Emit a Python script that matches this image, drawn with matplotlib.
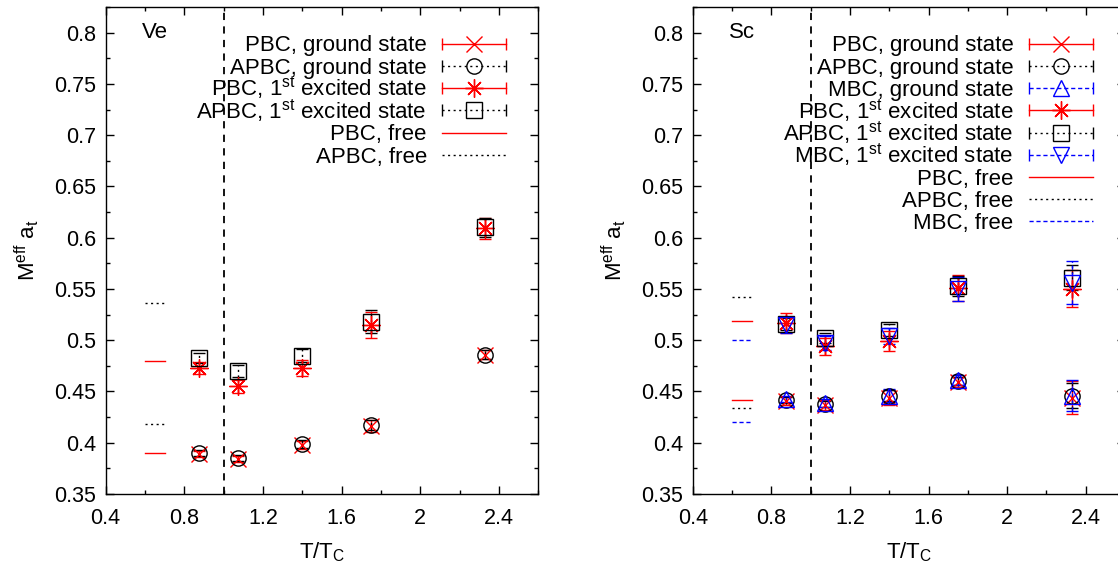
import numpy as np
import matplotlib
matplotlib.use("Agg")
import matplotlib.pyplot as plt
from matplotlib.lines import Line2D
from matplotlib.legend_handler import HandlerBase
from matplotlib.offsetbox import TextArea
from matplotlib.transforms import Bbox
from matplotlib.ticker import MultipleLocator, FuncFormatter

plt.rcParams['font.family'] = ['Liberation Sans', 'DejaVu Sans']
plt.rcParams['mathtext.fontset'] = 'custom'
plt.rcParams['mathtext.rm'] = 'Liberation Sans'
plt.rcParams['mathtext.it'] = 'Liberation Sans'
plt.rcParams['font.size'] = 15.5

# temperatures T/Tc
T = [0.875, 1.075, 1.4, 1.75, 2.33]
Tc_line = 1.0
free_x = [0.6, 0.7]

# Ve channel
ve_pbc_g = [0.389, 0.384, 0.398, 0.416, 0.486]
ve_pbc_g_err = [0.003, 0.003, 0.004, 0.006, 0.004]
ve_apbc_g = [0.390, 0.385, 0.399, 0.417, 0.486]
ve_apbc_g_err = [0.003, 0.003, 0.004, 0.005, 0.004]
ve_pbc_e = [0.473, 0.455, 0.473, 0.515, 0.609]
ve_pbc_e_err = [0.006, 0.006, 0.008, 0.013, 0.010]
ve_apbc_e = [0.483, 0.470, 0.485, 0.518, 0.610]
ve_apbc_e_err = [0.005, 0.006, 0.006, 0.011, 0.009]
ve_free_pbc = [0.39, 0.48]
ve_free_apbc = [0.418, 0.536]

# Sc channel
sc_pbc_g = [0.441, 0.437, 0.444, 0.459, 0.444]
sc_pbc_g_err = [0.004, 0.005, 0.007, 0.005, 0.016]
sc_apbc_g = [0.442, 0.438, 0.446, 0.460, 0.446]
sc_apbc_g_err = [0.003, 0.003, 0.005, 0.004, 0.012]
sc_mbc_g = [0.443, 0.439, 0.446, 0.461, 0.446]
sc_mbc_g_err = [0.003, 0.004, 0.006, 0.005, 0.015]
sc_pbc_e = [0.517, 0.494, 0.499, 0.551, 0.550]
sc_pbc_e_err = [0.010, 0.008, 0.010, 0.013, 0.018]
sc_apbc_e = [0.516, 0.502, 0.510, 0.553, 0.561]
sc_apbc_e_err = [0.006, 0.005, 0.006, 0.010, 0.012]
sc_mbc_e = [0.515, 0.497, 0.504, 0.550, 0.556]
sc_mbc_e_err = [0.008, 0.007, 0.008, 0.012, 0.021]
sc_free_pbc = [0.442, 0.519]
sc_free_apbc = [0.434, 0.542]
sc_free_mbc = [0.420, 0.500]

# styles (gnuplot-like)
DOT = (0, (1.5, 2.5))
DASH = (0, (3, 2))
pbc_g = dict(color='red', marker='x', ls='-', ms=12)
apbc_g = dict(color='black', marker='o', ls=DOT, ms=11)
mbc_g = dict(color='blue', marker='^', ls=DASH, ms=11)
pbc_e = dict(color='red', marker=(8, 2, 0), ls='-', ms=13)
apbc_e = dict(color='black', marker='s', ls=DOT, ms=11)
mbc_e = dict(color='blue', marker='v', ls=DASH, ms=11)

LEG_FS = 16


class ErrHandler(HandlerBase):
    # horizontal errorbar sample like gnuplot keys
    def create_artists(self, legend, orig, xdescent, ydescent, width, height, fontsize, trans):
        y = height / 2 - ydescent
        x0 = -xdescent
        x1 = width - xdescent
        bar = Line2D([x0, x1], [y, y])
        bar.update_from(orig)
        bar.set_marker('None')
        caps = Line2D([x0, x1], [y, y], ls='none', marker='|', ms=8, mew=1, color=orig.get_color())
        mk = Line2D([(x0 + x1) / 2], [y], ls='none', marker=orig.get_marker(),
                    ms=orig.get_markersize(), mfc='none', mec=orig.get_color(), mew=1)
        for a in (bar, caps, mk):
            a.set_transform(trans)
        return [bar, caps, mk]


def errplot(ax, y, err, st, label):
    c = ax.errorbar(T, y, yerr=err, ls='none', marker=st['marker'], ms=st['ms'], mfc='none',
                    mec=st['color'], mew=1, ecolor=st['color'], elinewidth=1, capsize=4, capthick=1)
    c[2][0].set_linestyle(st['ls'])
    return Line2D([], [], color=st['color'], ls=st['ls'], lw=1, marker=st['marker'], ms=st['ms']), label


def freeplot(ax, vals, st, label):
    for v in vals:
        ax.plot(free_x, [v, v], color=st['color'], ls=st['ls'], lw=1)
    return Line2D([], [], color=st['color'], ls=st['ls'], lw=1), label


def style_axes(ax, name):
    ax.set_xlim(0.4, 2.6)
    ax.set_ylim(0.35, 0.825)
    ax.xaxis.set_major_locator(MultipleLocator(0.4))
    ax.xaxis.set_minor_locator(MultipleLocator(0.2))
    ax.yaxis.set_major_locator(MultipleLocator(0.05))
    ax.yaxis.set_minor_locator(MultipleLocator(0.025))
    fmt = FuncFormatter(lambda v, p: '%g' % round(v, 4))
    ax.xaxis.set_major_formatter(fmt)
    ax.yaxis.set_major_formatter(fmt)
    ax.tick_params(which='both', direction='in', top=True, right=True, width=1)
    ax.tick_params(which='major', length=6)
    ax.tick_params(which='minor', length=3)
    ax.tick_params(axis='x', which='major', pad=10)
    ax.tick_params(axis='y', which='major', pad=7)
    for s in ax.spines.values():
        s.set_linewidth(1)
    ax.axvline(Tc_line, color='black', lw=1.3, ls=(0, (4, 3.5)))
    ax.set_xlabel(r'T/T$_{\rm C}$', fontsize=16, labelpad=8)
    ax.set_ylabel(r'M$^{\rm eff}$ a$_{\rm t}$', fontsize=16, labelpad=9)
    ax.text(0.083, 0.8, name, transform=ax.get_yaxis_transform(), va='center', fontsize=16)


def flatten_rows(leg):
    # gnuplot keys use equal row heights, even with superscripts
    def walk(box):
        for ch in box.get_children():
            if isinstance(ch, TextArea):
                patch(ch)
            elif hasattr(ch, 'get_children') and not isinstance(ch, matplotlib.text.Text):
                walk(ch)

    def patch(ta):
        orig = ta.get_bbox

        def get_bbox(renderer):
            b = orig(renderer)
            fp = ta.get_children()[0].get_fontproperties()
            _, h_, d_ = renderer.get_text_width_height_descent("lp", fp, ismath=False)
            row_h = renderer.points_to_pixels(LEG_FS)
            return Bbox.from_bounds(b.x0, -d_, b.width, row_h)
        ta.get_bbox = get_bbox

    walk(leg._legend_box)


fig = plt.figure(figsize=(11.18, 5.64), dpi=100)
ax1 = fig.add_axes([0.0945, 0.1241, 0.3870, 0.8635])
ax2 = fig.add_axes([0.6196, 0.1241, 0.3867, 0.8635])

# Ve panel
hl = []
hl.append(errplot(ax1, ve_pbc_g, ve_pbc_g_err, pbc_g, 'PBC, ground state'))
hl.append(errplot(ax1, ve_apbc_g, ve_apbc_g_err, apbc_g, 'APBC, ground state'))
hl.append(errplot(ax1, ve_pbc_e, ve_pbc_e_err, pbc_e, r'PBC, 1$^{\rm st}$ excited state'))
hl.append(errplot(ax1, ve_apbc_e, ve_apbc_e_err, apbc_e, r'APBC, 1$^{\rm st}$ excited state'))
free1 = [freeplot(ax1, ve_free_pbc, pbc_g, 'PBC, free'),
         freeplot(ax1, ve_free_apbc, apbc_g, 'APBC, free')]
style_axes(ax1, 'Ve')

# Sc panel
hl2 = []
hl2.append(errplot(ax2, sc_pbc_g, sc_pbc_g_err, pbc_g, 'PBC, ground state'))
hl2.append(errplot(ax2, sc_apbc_g, sc_apbc_g_err, apbc_g, 'APBC, ground state'))
hl2.append(errplot(ax2, sc_mbc_g, sc_mbc_g_err, mbc_g, 'MBC, ground state'))
hl2.append(errplot(ax2, sc_pbc_e, sc_pbc_e_err, pbc_e, r'PBC, 1$^{\rm st}$ excited state'))
hl2.append(errplot(ax2, sc_apbc_e, sc_apbc_e_err, apbc_e, r'APBC, 1$^{\rm st}$ excited state'))
hl2.append(errplot(ax2, sc_mbc_e, sc_mbc_e_err, mbc_e, r'MBC, 1$^{\rm st}$ excited state'))
free2 = [freeplot(ax2, sc_free_pbc, pbc_g, 'PBC, free'),
         freeplot(ax2, sc_free_apbc, apbc_g, 'APBC, free'),
         freeplot(ax2, sc_free_mbc, mbc_g, 'MBC, free')]
style_axes(ax2, 'Sc')

for ax, errs, frees in ((ax1, hl, free1), (ax2, hl2, free2)):
    handles = [h for h, l in errs] + [h for h, l in frees]
    labels = [l for h, l in errs] + [l for h, l in frees]
    hmap = {h: ErrHandler() for h, l in errs}
    leg = ax.legend(handles, labels, handler_map=hmap, loc='upper right', markerfirst=False,
                    frameon=False, fontsize=LEG_FS, handlelength=2.88, handletextpad=0.68,
                    labelspacing=0.0, borderaxespad=0.3, borderpad=0.4,
                    bbox_to_anchor=(0.961, 0.976))
    flatten_rows(leg)

fig.savefig('out.png', dpi=100)
